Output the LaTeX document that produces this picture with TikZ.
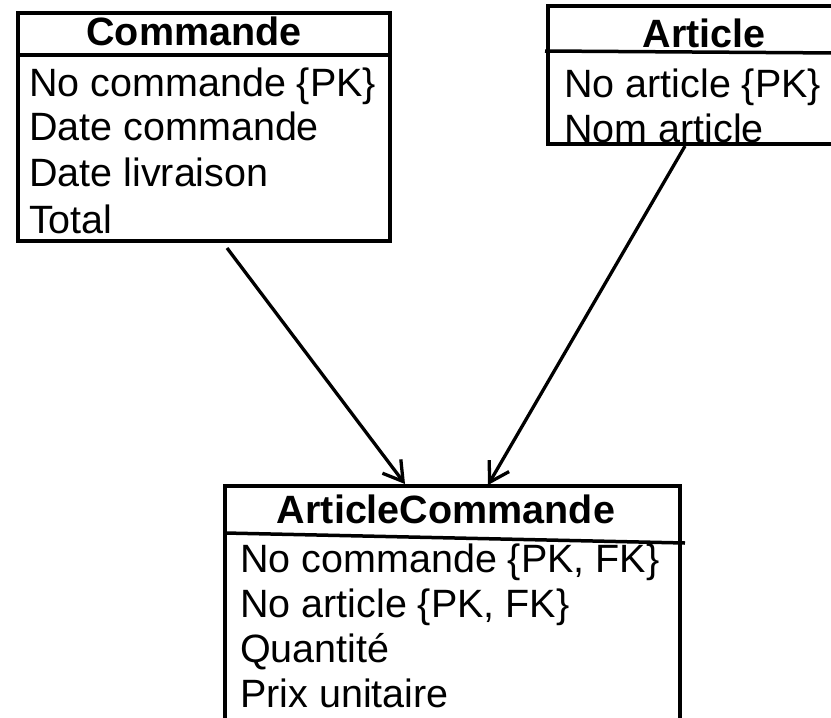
\documentclass[tikz,border=0pt]{standalone}
\usepackage{fontspec}
\setmainfont{Liberation Sans}
\usetikzlibrary{arrows.meta}
\begin{document}
\begin{tikzpicture}[x=1pt,y=-1pt,
  entity/.style={draw, line width=3.5pt, rectangle, inner sep=0pt, outer sep=0pt, anchor=north west},
  title/.style={font=\fontsize{39.5}{45}\selectfont\bfseries, inner sep=0pt, anchor=base},
  attr/.style={font=\fontsize{39.5}{45}\selectfont, inner sep=0pt, anchor=base west},
  rule/.style={line width=3.5pt},
  link/.style={line width=3.3pt, -{Straight Barb[length=19pt,width=23pt,line width=3.3pt]}}]
\useasboundingbox (0,0) rectangle (831,718);
\clip (0,0) rectangle (831,718);

% entity frames
\node[entity, minimum width=372pt, minimum height=228pt] (cmd) at (18,13) {};
\node[entity, minimum width=320pt, minimum height=138pt] (art) at (548,6) {};
\node[entity, minimum width=455pt, minimum height=260pt] (ac) at (225,486) {};

% header separators
\draw[rule] (18,55) -- (390,55);
\draw[rule] (545,51) -- (840,53);
\draw[rule] (225,533) -- (685,543);

% Commande
\node[title] (cmd-t) at (194,45) {Commande};
\node[attr] (cmd-1) at (29,96) {No commande \{PK\}};
\node[attr] (cmd-2) at (29,140) {Date commande};
\node[attr] (cmd-3) at (29,186) {Date livraison};
\node[attr] (cmd-4) at (29,233) {Total};

% Article
\node[title] (art-t) at (704,47) {Article};
\node[attr] (art-1) at (564,97) {No article \{PK\}};
\node[attr] (art-2) at (564,142) {Nom article};

% ArticleCommande
\node[title] (ac-t) at (446,523) {ArticleCommande};
\node[attr] (ac-1) at (240,572) {No commande \{PK, FK\}};
\node[attr] (ac-2) at (240,617) {No article \{PK, FK\}};
\node[attr] (ac-3) at (240,662) {Quantité};
\node[attr] (ac-4) at (240,707) {Prix unitaire};

% relationship ends
\coordinate (cmd-out) at (227,248);
\coordinate (ac-in1) at (405,484);
\coordinate (art-out) at (685,146);
\coordinate (ac-in2) at (488,485);

\draw[link] (cmd-out) -- (ac-in1);
\draw[link] (art-out) -- (ac-in2);
\end{tikzpicture}
\end{document}
